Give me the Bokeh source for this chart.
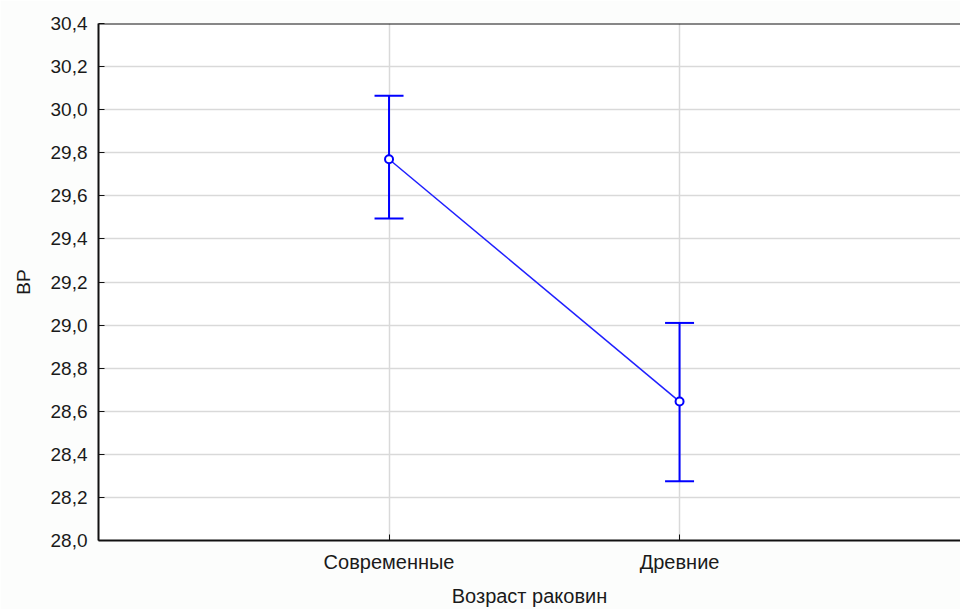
from bokeh.plotting import figure
from bokeh.models import (ColumnDataSource, Whisker, TeeHead, Range1d, FixedTicker,
                          CustomJSTickFormatter, Span)
from bokeh.embed import file_html
from bokeh.resources import INLINE

categories = ["Современные", "Древние"]
means = [29.77, 28.645]
upper = [30.065, 29.01]
lower = [29.495, 28.275]
y_ticks = [28.0, 28.2, 28.4, 28.6, 28.8, 29.0, 29.2, 29.4, 29.6, 29.8, 30.0, 30.2, 30.4]

xs = [i + 1 for i in range(len(categories))]
src = ColumnDataSource(dict(x=xs, m=means, u=upper, l=lower))

FONT = "Liberation Sans"
p = figure(width=960, height=609, output_backend="svg", toolbar_location=None,
           x_range=Range1d(0, 2.967), y_range=Range1d(28.0, 30.4),
           min_border_left=98, min_border_top=23, min_border_right=0, min_border_bottom=69,
           background_fill_color="white", border_fill_color="#fcfdfc")
p.outline_line_color = None

# axes
p.xaxis.ticker = FixedTicker(ticks=xs)
p.xaxis.major_label_overrides = {x: c for x, c in zip(xs, categories)}
p.yaxis.ticker = FixedTicker(ticks=y_ticks)
p.yaxis.formatter = CustomJSTickFormatter(code="return tick.toFixed(1).replace('.', ',');")
for ax in (p.xaxis[0], p.yaxis[0]):
    ax.axis_line_color = "#111111"
    ax.axis_line_width = 2
    ax.major_tick_in = 6
    ax.major_tick_out = 0
    ax.major_tick_line_color = "#111111"
    ax.minor_tick_line_color = None
    ax.major_label_text_font = FONT
    ax.major_label_text_color = "#1a1a1a"
    ax.axis_label_text_font = FONT
    ax.axis_label_text_font_style = "normal"
    ax.axis_label_text_color = "#1a1a1a"
p.xaxis.major_label_text_font_size = "20px"
p.xaxis.axis_label_text_font_size = "20px"
p.yaxis.major_label_text_font_size = "19px"
p.yaxis.axis_label_text_font_size = "19px"
p.xaxis.axis_label = "Возраст раковин"
p.yaxis.axis_label = "ВР"
p.xaxis.major_label_standoff = 10
p.xaxis.axis_label_standoff = 9
p.yaxis.major_label_standoff = 11
p.yaxis.axis_label_standoff = 14

p.xgrid.ticker = FixedTicker(ticks=xs)
p.ygrid.ticker = FixedTicker(ticks=y_ticks)
for g in (p.xgrid[0], p.ygrid[0]):
    g.grid_line_color = "#d9d9d9"
    g.grid_line_width = 1.5

top = Span(location=30.4, dimension="width", line_color="#111111", line_width=2)
p.add_layout(top)

# error bars
w = Whisker(source=src, base="x", upper="u", lower="l", line_color="#0000ff", line_width=2,
            upper_head=TeeHead(size=29, line_color="#0000ff", line_width=2),
            lower_head=TeeHead(size=29, line_color="#0000ff", line_width=2))
p.add_layout(w)

p.line("x", "m", source=src, line_color="#2020ff", line_width=1.5)
p.scatter("x", "m", source=src, marker="circle", size=8, line_color="#0000ff",
          line_width=2, fill_color="white")

open("out.html", "w").write(file_html(p, INLINE))
